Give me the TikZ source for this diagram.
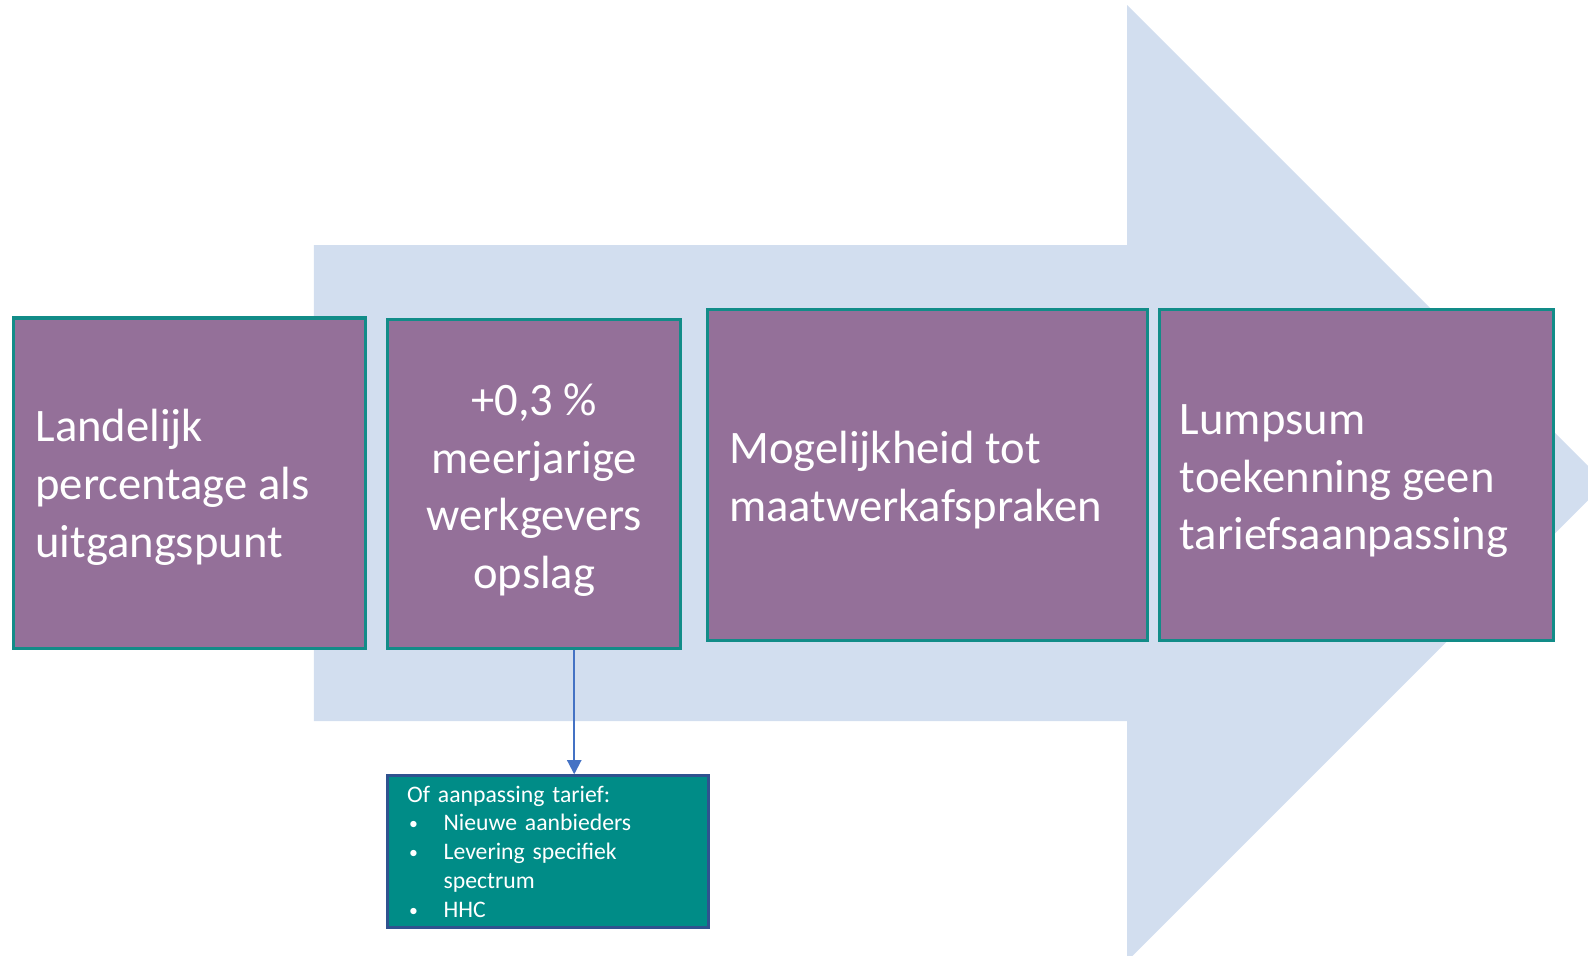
\documentclass[tikz,border=0pt]{standalone}
\usepackage{fontspec}
\setmainfont{Carlito}
\usetikzlibrary{arrows.meta}
\definecolor{arrowblue}{RGB}{210,222,239}
\definecolor{boxpurple}{RGB}{148,112,153}
\definecolor{boxteal}{RGB}{18,140,136}
\definecolor{notegreen}{RGB}{0,140,135}
\definecolor{noteborder}{RGB}{47,82,143}
\definecolor{connblue}{RGB}{68,114,196}
\newcommand\steptext[4]{\raisebox{-#1}[\height][\depth]{\parbox{#2}{#3#4}}}
\newcommand\nbullet{\hspace*{1pt}\makebox[17pt][l]{\raisebox{0.6pt}{\scalebox{0.75}{•}}}}
\begin{document}
\begin{tikzpicture}[x=0.5pt,y=-0.5pt,
  bigarrow/.style={fill=arrowblue},
  stepbox/.style={draw=boxteal, line width=1.5pt, fill=boxpurple, text=white,
    font=\fontsize{23}{28.5}\selectfont, inner sep=0pt, minimum height=163pt},
  notebox/.style={draw=noteborder, line width=1.5pt, fill=notegreen, text=white,
    font=\fontsize{11.7}{14.25}\selectfont, align=left, inner ysep=0pt,
    inner xsep=9.5pt, text width=139.5pt, minimum width=158.5pt, minimum height=75pt},
  conn/.style={draw=connblue, line width=1pt, -{Triangle[width=7pt,length=7pt]}}
]
\useasboundingbox (0,0) rectangle (1568,943);
\begin{scope}
\clip (0,0) rectangle (1568,943);
\fill[bigarrow] (310,242) -- (1113,242) -- (1113,5) -- (1585,477) -- (1113,949) -- (1113,712) -- (310,712) -- cycle;
\end{scope}

\node[stepbox, minimum width=174pt] (b1) at (187,477)
  {\steptext{2.2pt}{152pt}{\raggedright}{Landelijk\\percentage als\\uitgangspunt}};
\node[stepbox, minimum width=144.5pt, minimum height=162.5pt] (b2) at (527.5,477.5)
  {\steptext{3.2pt}{128.5pt}{\centering}{+0,3 \%\\meerjarige\\werkgevers\\opslag}};
\node[stepbox, minimum width=217pt] (b3) at (916,469)
  {\steptext{2.6pt}{196pt}{\raggedright}{Mogelijkheid tot\\maatwerkafspraken}};
\node[stepbox, minimum width=194.5pt] (b4) at (1339.5,469)
  {\steptext{3pt}{174.5pt}{\raggedright}{Lumpsum\\toekenning geen\\tariefsaanpassing}};

\node[notebox] (n) at (541.5,841)
  {Of aanpassing tarief:\\
   \nbullet Nieuwe aanbieders\\
   \nbullet Levering specifiek\\
   \hspace*{18pt}spectrum\\
   \nbullet HHC};

\coordinate (c) at (567,700);
\draw[conn] (b2.south -| c) -- (n.north -| c);
\end{tikzpicture}
\end{document}
